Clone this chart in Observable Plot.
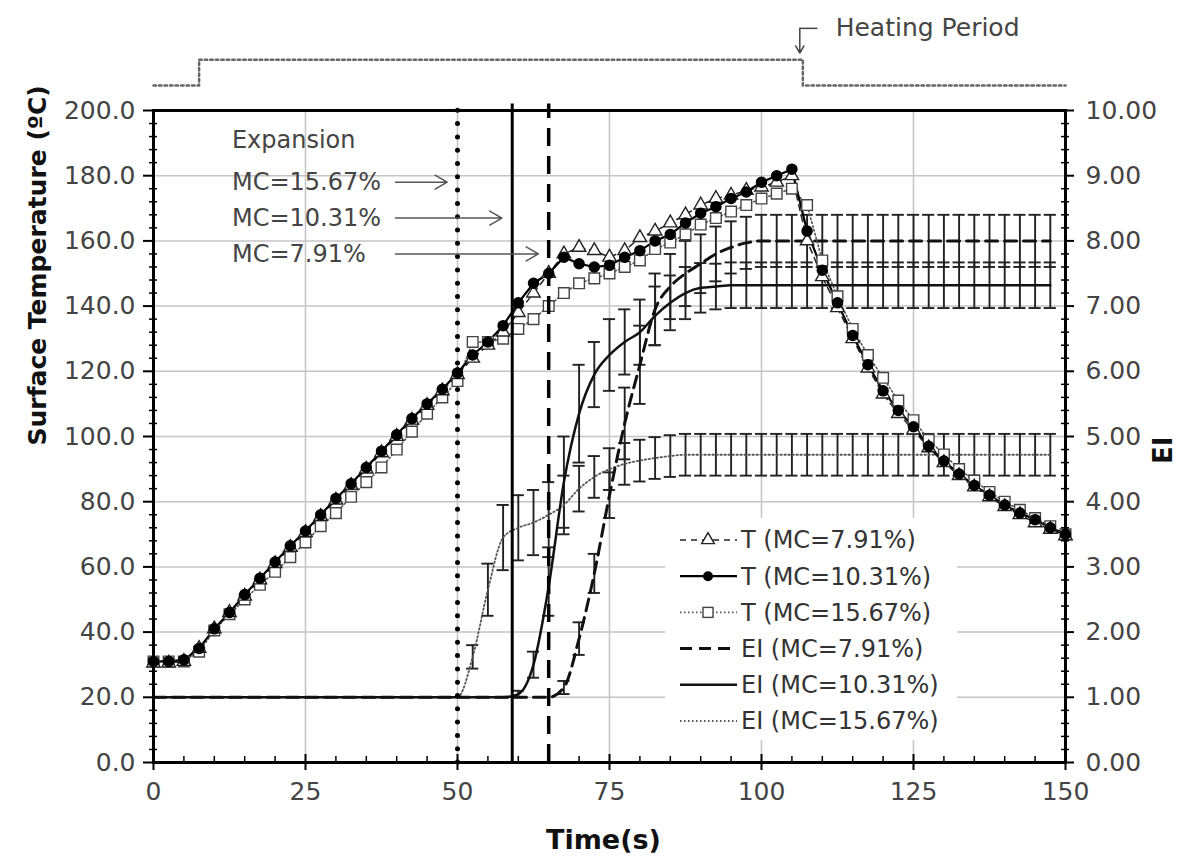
<!DOCTYPE html>
<html><head><meta charset="utf-8">
<script src="https://cdn.jsdelivr.net/npm/d3@7"></script>
<script src="https://cdn.jsdelivr.net/npm/@observablehq/plot@0.6"></script>
<style>
html,body{margin:0;padding:0;background:#fff;}
#chart svg{display:block;}
</style></head><body><div id="chart"></div>
<script>
// ---------------- DATA ----------------
const time = [0,2.5,5,7.5,10,12.5,15,17.5,20,22.5,25,27.5,30,32.5,35,37.5,40,42.5,45,47.5,50,52.5,55,57.5,60,62.5,65,67.5,70,72.5,75,77.5,80,82.5,85,87.5,90,92.5,95,97.5,100,102.5,105,107.5,110,112.5,115,117.5,120,122.5,125,127.5,130,132.5,135,137.5,140,142.5,145,147.5,150];
const tempMC791 = [30.5,30.5,31,35,41,46,51,56,61,66,70.5,75.5,80.5,85,90,95,100,105,109.5,114,119,124,128,132,138,144,150,156,158,157,155,157,161,163,165.5,168,171,173,174,175.5,176.5,178,180,160,149,139.5,130,121,113,107,102,96.5,92,88,84.5,81.5,78.5,76,73.5,71.5,69.5];
const tempMC1031 = [31,31,31.5,35,41,46,51.5,56.5,61.5,66.5,71,76,81,85.5,90.5,95.5,100.5,105.5,110,114.5,119.5,125,129,134,141,147,150,155,153,152,152.5,155,157,160,162,165.5,168.5,170.5,173,175,178,180,182,163,151,141,131,122,114,108,103,97,92.5,88.5,85,82,79,76.5,74.5,72,70];
const tempMC1567 = [31,31,31,34,40.5,45.5,50,54.5,58.5,63,67.5,72.5,76.5,81.5,86,90.5,96,101.5,107,112,117,129,129,130,133,136,140,144,147,148.5,150,152,154,157.5,159.5,162,165,167,169,171,173,174.5,176,171,154,143,133,125,118,111,105,99,94.5,90,86.5,83,80,77.5,75,72.5,70];

const eiTime = [0,2.5,5,7.5,10,12.5,15,17.5,20,22.5,25,27.5,30,32.5,35,37.5,40,42.5,45,47.5,50,52.5,55,57.5,60,62.5,65,67.5,70,72.5,75,77.5,80,82.5,85,87.5,90,92.5,95,97.5,100,102.5,105,107.5,110,112.5,115,117.5,120,122.5,125,127.5,130,132.5,135,137.5,140,142.5,145,147.5];
const eiMC791 = [1,1,1,1,1,1,1,1,1,1,1,1,1,1,1,1,1,1,1,1,1,1,1,1,1,1,1,1.15,1.9,2.9,4.1,5.2,6.1,6.95,7.3,7.5,7.65,7.8,7.9,7.97,8,8,8,8,8,8,8,8,8,8,8,8,8,8,8,8,8,8,8,8];
const eiErrMC791 = [0,0,0,0,0,0,0,0,0,0,0,0,0,0,0,0,0,0,0,0,0,0,0,0,0,0,0,0.1,0.25,0.3,0.35,0.55,0.6,0.55,0.5,0.5,0.45,0.42,0.4,0.4,0.4,0.4,0.4,0.4,0.4,0.4,0.4,0.4,0.4,0.4,0.4,0.4,0.4,0.4,0.4,0.4,0.4,0.4,0.4,0.4];
const eiMC1031 = [1,1,1,1,1,1,1,1,1,1,1,1,1,1,1,1,1,1,1,1,1,1,1,1,1.05,1.5,2.7,4.3,5.35,5.95,6.25,6.45,6.6,6.85,7.05,7.2,7.28,7.3,7.32,7.32,7.32,7.32,7.32,7.32,7.32,7.32,7.32,7.32,7.32,7.32,7.32,7.32,7.32,7.32,7.32,7.32,7.32,7.32,7.32,7.32];
const eiErrMC1031 = [0,0,0,0,0,0,0,0,0,0,0,0,0,0,0,0,0,0,0,0,0,0,0,0,0.05,0.2,0.45,0.7,0.75,0.5,0.55,0.5,0.5,0.45,0.42,0.4,0.38,0.35,0.35,0.35,0.35,0.35,0.35,0.35,0.35,0.35,0.35,0.35,0.35,0.35,0.35,0.35,0.35,0.35,0.35,0.35,0.35,0.35,0.35,0.35];
const eiMC1567 = [1,1,1,1,1,1,1,1,1,1,1,1,1,1,1,1,1,1,1,1,1,1.62,2.65,3.45,3.6,3.68,3.8,3.95,4.2,4.38,4.5,4.58,4.63,4.67,4.7,4.72,4.72,4.72,4.72,4.72,4.72,4.72,4.72,4.72,4.72,4.72,4.72,4.72,4.72,4.72,4.72,4.72,4.72,4.72,4.72,4.72,4.72,4.72,4.72,4.72];
const eiErrMC1567 = [0,0,0,0,0,0,0,0,0,0,0,0,0,0,0,0,0,0,0,0,0,0.18,0.4,0.5,0.5,0.5,0.5,0.45,0.35,0.32,0.32,0.32,0.32,0.32,0.32,0.32,0.32,0.32,0.32,0.32,0.32,0.32,0.32,0.32,0.32,0.32,0.32,0.32,0.32,0.32,0.32,0.32,0.32,0.32,0.32,0.32,0.32,0.32,0.32,0.32];

const onsetTimes = [50, 59, 65];                       // expansion onset: MC=15.67%, 10.31%, 7.91%
const onsetLabels = ["MC=15.67%", "MC=10.31%", "MC=7.91%"];
const heatingStart = 7.5, heatingEnd = 106.8;         // heating period (s)

const xTicks = [0,25,50,75,100,125,150];
const yTicks = [0,20,40,60,80,100,120,140,160,180,200];
const eiTicks = [0,1,2,3,4,5,6,7,8,9,10];
const legendLabels = ["T (MC=7.91%)","T (MC=10.31%)","T (MC=15.67%)","EI (MC=7.91%)","EI (MC=10.31%)","EI (MC=15.67%)"];

// ---------------- LAYOUT ----------------
const T_MAX = 200, EI_MAX = 10, k = T_MAX / EI_MAX;
const minorX = d3.range(0, 151, 5).filter(v => v % 25 !== 0);
const minorY = d3.range(0, 201, 4).filter(v => v % 20 !== 0);
const HEAT_OFF = 207.7, HEAT_ON = 215.6, HEAT_ARROW_TOP = 225.2, HEAT_ARROW_END = 217.6;
const labelX = 12.9, arrowStartX = 39.8, labelYs = [178, 167, 156];

const rowsOf = (xs, vs) => xs.map((t, i) => ({t, v: vs[i]}));
const errRows = (vs, es) => eiTime.map((t, i) => ({t, v: vs[i], e: es[i]})).filter(d => d.e > 0);

const sty = {
  T791:  {stroke: "#222", strokeWidth: 1.5, strokeDasharray: "6,5"},
  T1031: {stroke: "#000", strokeWidth: 2.2},
  T1567: {stroke: "#555", strokeWidth: 1.6, strokeDasharray: "1.5,2.5"},
  E791:  {stroke: "#111", strokeWidth: 3, strokeDasharray: "12,7"},
  E1031: {stroke: "#111", strokeWidth: 2.5},
  E1567: {stroke: "#555", strokeWidth: 1.8, strokeDasharray: "1.5,2.5"}
};

function bars(vs, es) {
  const r = errRows(vs, es);
  const o = {stroke: "#222", strokeWidth: 1.9};
  return [
    Plot.ruleX(r, {x: "t", y1: d => (d.v - d.e) * k, y2: d => (d.v + d.e) * k, ...o}),
    Plot.ruleY(r, {y: d => (d.v + d.e) * k, x1: d => d.t - 1, x2: d => d.t + 1, ...o}),
    Plot.ruleY(r, {y: d => (d.v - d.e) * k, x1: d => d.t - 1, x2: d => d.t + 1, ...o})
  ];
}

const heatRows = [
  {t: 0, on: 0}, {t: heatingStart, on: 0}, {t: heatingStart, on: 1},
  {t: heatingEnd, on: 1}, {t: heatingEnd, on: 0}, {t: 150, on: 0}
];
const onsetRows = onsetTimes.map((t, i) => ({t, label: onsetLabels[i], ly: labelYs[i]}));

const plot = Plot.plot({
  width: 1182, height: 861,
  marginLeft: 153, marginRight: 117, marginTop: 110, marginBottom: 99,
  x: {domain: [0, 150]},
  y: {domain: [0, T_MAX]},
  style: {fontFamily: "'DejaVu Sans', sans-serif", fontSize: "25px", background: "#fff", color: "#000"},
  marks: [
    Plot.gridY(yTicks, {stroke: "#c4c4c4", strokeOpacity: 1, strokeWidth: 1.5}),
    Plot.gridX(xTicks, {stroke: "#c4c4c4", strokeOpacity: 1, strokeWidth: 1.5}),

    ...bars(eiMC1567, eiErrMC1567),
    ...bars(eiMC1031, eiErrMC1031),
    ...bars(eiMC791, eiErrMC791),
    Plot.line(rowsOf(eiTime, eiMC1567), {x: "t", y: d => d.v * k, curve: "monotone-x", ...sty.E1567}),
    Plot.line(rowsOf(eiTime, eiMC791), {x: "t", y: d => d.v * k, curve: "monotone-x", ...sty.E791}),
    Plot.line(rowsOf(eiTime, eiMC1031), {x: "t", y: d => d.v * k, curve: "monotone-x", ...sty.E1031}),

    Plot.line(rowsOf(time, tempMC1567), {x: "t", y: "v", ...sty.T1567}),
    Plot.line(rowsOf(time, tempMC791), {x: "t", y: "v", ...sty.T791}),
    Plot.line(rowsOf(time, tempMC1031), {x: "t", y: "v", ...sty.T1031}),
    Plot.dot(rowsOf(time, tempMC1567), {x: "t", y: "v", symbol: "square", r: 6, fill: "#fff", stroke: "#444", strokeWidth: 1.4}),
    Plot.dot(rowsOf(time, tempMC791), {x: "t", y: "v", symbol: "triangle", r: 5, fill: "#fff", stroke: "#222", strokeWidth: 1.4}),
    Plot.dot(rowsOf(time, tempMC1031), {x: "t", y: "v", r: 5, fill: "#000", stroke: "#000"}),

    // expansion onset lines
    Plot.ruleX([onsetTimes[0]], {stroke: "#000", strokeWidth: 5, strokeDasharray: "0,13.3", strokeLinecap: "round", y1: 0, y2: 202}),
    Plot.ruleX([onsetTimes[1]], {stroke: "#000", strokeWidth: 3, y1: 0, y2: 202}),
    Plot.ruleX([onsetTimes[2]], {stroke: "#000", strokeWidth: 3.5, strokeDasharray: "18,10", y1: 0, y2: 202}),

    // annotations
    Plot.text(["Expansion"], {x: labelX, y: 190.8, text: d => d, textAnchor: "start", fill: "#444", fontSize: 24}),
    Plot.text(onsetRows, {x: labelX, y: "ly", text: "label", textAnchor: "start", fill: "#444", fontSize: 24}),
    Plot.arrow(onsetRows, {x1: arrowStartX, x2: d => d.t - 1.7, y1: "ly", y2: "ly", stroke: "#555", strokeWidth: 1.5, headLength: 14}),

    // heating period
    Plot.line(heatRows, {x: "t", y: d => d.on ? HEAT_ON : HEAT_OFF, stroke: "#666", strokeWidth: 2.5, strokeDasharray: "2.5,3"}),
    Plot.link([heatingEnd], {x1: d => d - 0.5, x2: d => d + 2.4, y1: HEAT_ARROW_TOP, y2: HEAT_ARROW_TOP, stroke: "#444", strokeWidth: 1.5}),
    Plot.arrow([heatingEnd], {x1: d => d - 0.5, x2: d => d - 0.5, y1: HEAT_ARROW_TOP, y2: HEAT_ARROW_END, stroke: "#444", strokeWidth: 1.5, headLength: 10}),
    Plot.text(["Heating Period"], {x: heatingEnd + 5.4, y: HEAT_ARROW_TOP, text: d => d, textAnchor: "start", fill: "#444", fontSize: 25}),

    // axes
    Plot.axisX(xTicks, {anchor: "bottom", tickSize: 8, tickPadding: 12, tickFormat: d => String(d), label: null, stroke: "#000", strokeWidth: 2, fill: "#444", fontSize: 25}),
    Plot.axisY(yTicks, {anchor: "left", tickSize: 10, tickPadding: 8, tickFormat: d => d.toFixed(1), label: null, stroke: "#000", strokeWidth: 2, fill: "#444", fontSize: 25}),
    Plot.axisY(eiTicks.map(v => v * k), {anchor: "right", tickSize: 8, tickPadding: 12, tickFormat: d => (d / k).toFixed(2), label: null, stroke: "#000", strokeWidth: 2, fill: "#444", fontSize: 25}),
    Plot.ruleX(xTicks, {y1: 0, y2: 0, insetTop: -8, stroke: "#000", strokeWidth: 2}),
    Plot.ruleX(minorX, {y1: 0, y2: 0, insetTop: -6, stroke: "#000", strokeWidth: 1.5}),
    Plot.ruleY(minorY, {x1: 0, x2: 0, insetLeft: -4, insetRight: -4, stroke: "#000", strokeWidth: 1.5}),
    Plot.ruleY(minorY, {x1: 150, x2: 150, insetLeft: -4, insetRight: -4, stroke: "#000", strokeWidth: 1.5}),
    Plot.frame({stroke: "#000", strokeWidth: 3}),

    // titles
    Plot.text(["Surface Temperature (ºC)"], {frameAnchor: "left", dx: -116, dy: 9, rotate: -90, text: d => d, fontWeight: "bold", fontSize: 25, fill: "#111"}),
    Plot.text(["Time(s)"], {frameAnchor: "bottom", dx: -6, dy: 86, text: d => d, fontWeight: "bold", fontSize: 27, fill: "#111"}),
    Plot.text(["EI"], {frameAnchor: "right", dx: 98, rotate: -90, text: d => d, fontWeight: "bold", fontSize: 26, fill: "#111"})
  ]
});

// ---------------- LEGEND ----------------
const svg = d3.select(plot);
const lg = svg.append("g").attr("font-family", "'DejaVu Sans', sans-serif").attr("font-size", 24).attr("text-anchor", "start");
lg.append("rect").attr("x", 665).attr("y", 518).attr("width", 292).attr("height", 222).attr("fill", "#fff");
const legendStyles = [sty.T791, sty.T1031, sty.T1567, sty.E791, sty.E1031, sty.E1567];
const legendSymbols = ["triangle", "circle", "square", null, null, null];
legendLabels.forEach((lab, i) => {
  const y = 540 + i * 36.2;
  const s = legendStyles[i];
  lg.append("line").attr("x1", 680).attr("x2", 737).attr("y1", y).attr("y2", y)
    .attr("stroke", s.stroke).attr("stroke-width", s.strokeWidth).attr("stroke-dasharray", s.strokeDasharray || null);
  const sym = legendSymbols[i];
  if (sym === "circle") lg.append("circle").attr("cx", 708).attr("cy", y).attr("r", 5).attr("fill", "#000");
  if (sym === "square") lg.append("rect").attr("x", 703).attr("y", y - 5).attr("width", 10).attr("height", 10).attr("fill", "#fff").attr("stroke", "#444").attr("stroke-width", 1.4);
  if (sym === "triangle") lg.append("path").attr("d", d3.symbol(d3.symbolTriangle, 70)()).attr("transform", `translate(708,${y})`).attr("fill", "#fff").attr("stroke", "#222").attr("stroke-width", 1.4);
  lg.append("text").attr("x", 741).attr("y", y).attr("dy", "0.35em").attr("text-anchor", "start").attr("fill", "#333").text(lab);
});

document.getElementById("chart").appendChild(plot);
</script>
</body></html>
